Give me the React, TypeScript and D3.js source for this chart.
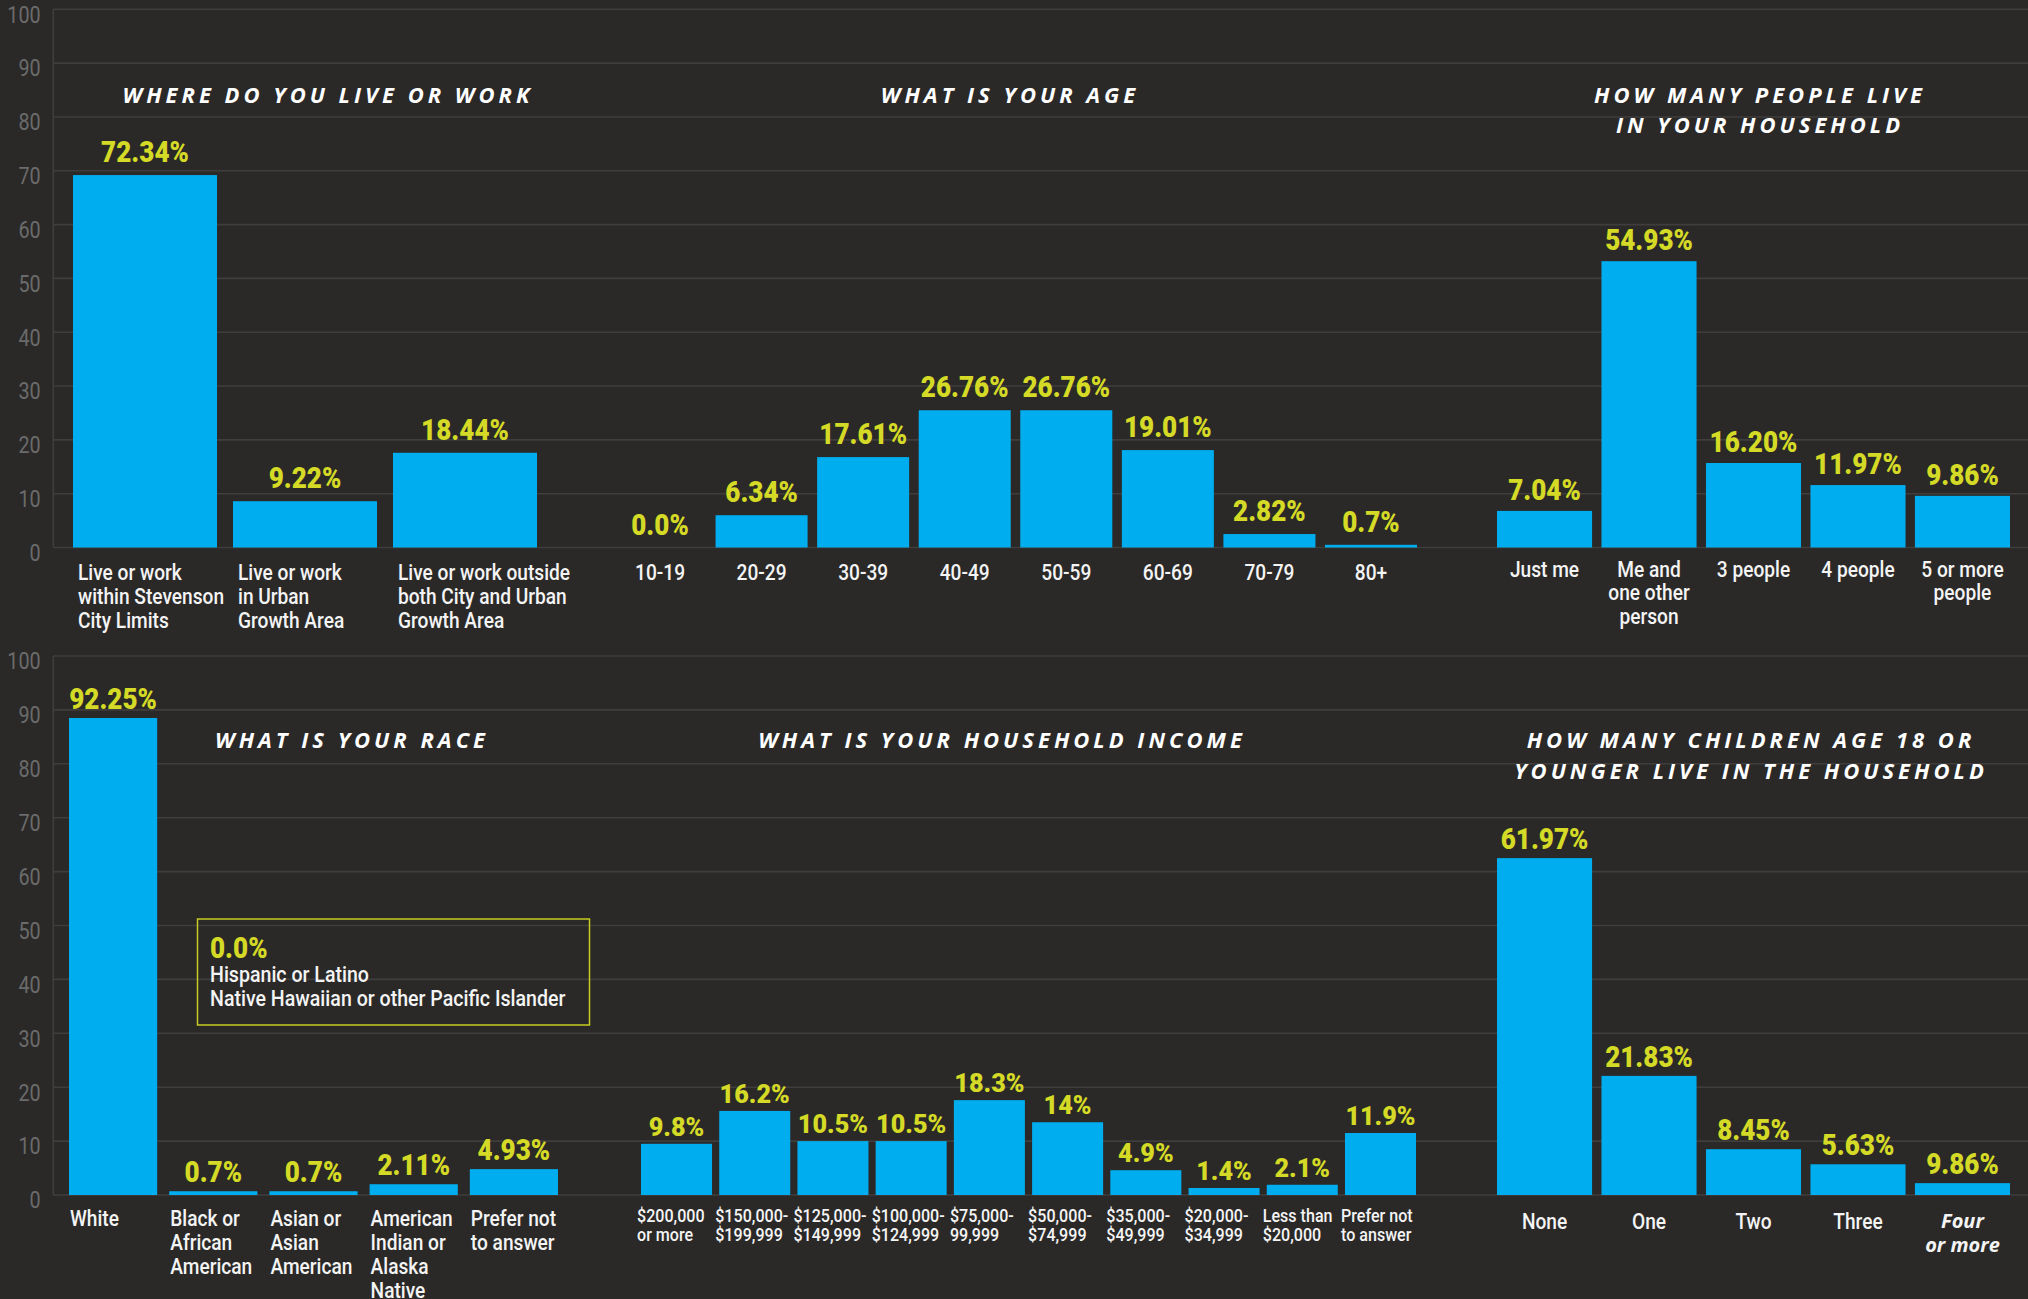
import React from 'react';
import * as d3 from 'd3';

const W = 2028;
const H = 1299;

// ---------- DATA ----------
// Row 1
const whereCats = [
  ['Live or work', 'within Stevenson', 'City Limits'],
  ['Live or work', 'in Urban', 'Growth Area'],
  ['Live or work outside', 'both City and Urban', 'Growth Area'],
];
const whereBars = [69.2, 8.6, 17.6];
const whereLabels = ['72.34%', '9.22%', '18.44%'];

const ageCats = [['10-19'], ['20-29'], ['30-39'], ['40-49'], ['50-59'], ['60-69'], ['70-79'], ['80+']];
const ageBars = [0, 6.0, 16.8, 25.5, 25.5, 18.1, 2.5, 0.5];
const ageLabels = ['0.0%', '6.34%', '17.61%', '26.76%', '26.76%', '19.01%', '2.82%', '0.7%'];

const houseCats = [['Just me'], ['Me and', 'one other', 'person'], ['3 people'], ['4 people'], ['5 or more', 'people']];
const houseBars = [6.8, 53.2, 15.7, 11.6, 9.6];
const houseLabels = ['7.04%', '54.93%', '16.20%', '11.97%', '9.86%'];

// Row 2
const raceCats = [
  ['White'],
  ['Black or', 'African', 'American'],
  ['Asian or', 'Asian', 'American'],
  ['American', 'Indian or', 'Alaska', 'Native'],
  ['Prefer not', 'to answer'],
];
const raceBars = [88.5, 0.7, 0.7, 2.0, 4.8];
const raceLabels = ['92.25%', '0.7%', '0.7%', '2.11%', '4.93%'];
const raceNoteValue = '0.0%';
const raceNoteLines = ['Hispanic or Latino', 'Native Hawaiian or other Pacific Islander'];

const incomeCats = [
  ['$200,000', 'or more'],
  ['$150,000-', '$199,999'],
  ['$125,000-', '$149,999'],
  ['$100,000-', '$124,999'],
  ['$75,000-', '99,999'],
  ['$50,000-', '$74,999'],
  ['$35,000-', '$49,999'],
  ['$20,000-', '$34,999'],
  ['Less than', '$20,000'],
  ['Prefer not', 'to answer'],
];
const incomeBars = [9.5, 15.6, 10.0, 10.0, 17.6, 13.5, 4.6, 1.3, 1.9, 11.5];
const incomeLabels = ['9.8%', '16.2%', '10.5%', '10.5%', '18.3%', '14%', '4.9%', '1.4%', '2.1%', '11.9%'];

const childCats = [['None'], ['One'], ['Two'], ['Three'], ['Four', 'or more']];
const childBars = [62.5, 22.1, 8.5, 5.7, 2.2];
const childLabels = ['61.97%', '21.83%', '8.45%', '5.63%', '9.86%'];

const yTicks = [0, 10, 20, 30, 40, 50, 60, 70, 80, 90, 100];

// ---------- STYLE ----------
const BG = '#2a2928';
const GRID = '#3f3e3d';
const BAR = '#00adee';
const YEL = '#d4da25';
const TICK = '#6b6b6b';
const WHITE = '#f4f4f4';

type Panel = {
  title: string[];
  titleX: number;
  cats: string[][];
  bars: number[];
  labels: string[];
  range: [number, number];
  pad: number;
  align: 'start' | 'middle';
  catDx: number;
  catDy: number;
  catSize: number;
  catLH: number;
  catSx: number;
  catWeight: number;
  valSize: number;
  valSx: number;
  valOff: number;
  italicLast?: boolean;
};

function CText(props: {
  x: number; y: number; sx?: number; size: number; weight?: number; fill: string;
  anchor?: string; family?: string; italic?: boolean; lines: string[]; lh?: number; ls?: number;
}) {
  const { x, y, sx = 1, size, weight = 400, fill, anchor = 'start', family = 'Roboto', italic, lines, lh = size, ls = 0 } = props;
  return (
    <text
      transform={`translate(${x},${y}) scale(${sx},1)`}
      fontFamily={family}
      fontSize={size}
      fontWeight={weight}
      fontStyle={italic ? 'italic' : 'normal'}
      fill={fill}
      textAnchor={anchor}
      letterSpacing={ls}
    >
      {lines.map((l, i) => (
        <tspan key={i} x={0} y={i * lh}>{l}</tspan>
      ))}
    </text>
  );
}

function Row({ y0, y1, panels, titleY, titleLH }: { y0: number; y1: number; panels: Panel[]; titleY: number; titleLH: number }) {
  const y = d3.scaleLinear().domain([0, 100]).range([y0, y1]);
  const axisX = 53.3;
  return (
    <g>
      {yTicks.map((t) => (
        <g key={t}>
          <line x1={axisX} x2={W} y1={y(t)} y2={y(t)} stroke={GRID} strokeWidth={1.6} />
          <CText x={40.7} y={y(t) + 13.3} size={23} sx={0.86} fill={TICK} anchor="end" lines={[String(t)]} />
        </g>
      ))}
      <line x1={axisX} x2={axisX} y1={y(100)} y2={y(0)} stroke={GRID} strokeWidth={1.6} />
      {panels.map((p, pi) => {
        const x = d3.scaleBand<number>().domain(d3.range(p.bars.length)).range(p.range).paddingInner(p.pad).paddingOuter(0);
        return (
          <g key={pi}>
            <text
              x={p.titleX}
              y={titleY}
              fontFamily="'Open Sans'"
              fontStyle="italic"
              fontWeight={700}
              fontSize={22}
              letterSpacing={4}
              fill="#ffffff"
              textAnchor="middle"
            >
              {p.title.map((l, i) => (
                <tspan key={i} x={p.titleX + 2} y={titleY + i * titleLH}>{l}</tspan>
              ))}
            </text>
            {p.bars.map((v, i) => {
              const bx = x(i) as number;
              const bw = x.bandwidth();
              return (
                <g key={i}>
                  {v > 0 && <rect x={bx} y={y(v)} width={bw} height={y(0) - y(v)} fill={BAR} />}
                  <CText
                    x={bx + bw / 2}
                    y={y(v) - p.valOff}
                    size={p.valSize}
                    sx={p.valSx}
                    weight={900}
                    fill={YEL}
                    anchor="middle"
                    lines={[p.labels[i]]}
                  />
                  {p.italicLast && i === p.bars.length - 1 ? (
                    <CText
                      x={bx + bw / 2}
                      y={y(0) + p.catDy - 1}
                      size={20}
                      weight={700}
                      italic
                      family="'Open Sans'"
                      fill={WHITE}
                      anchor="middle"
                      lines={p.cats[i]}
                      lh={24}
                    />
                  ) : (
                    <CText
                      x={p.align === 'middle' ? bx + bw / 2 : bx + p.catDx}
                      y={y(0) + p.catDy}
                      size={p.catSize}
                      sx={p.catSx}
                      weight={p.catWeight}
                      fill={WHITE}
                      anchor={p.align}
                      lines={p.cats[i]}
                      lh={p.catLH}
                    />
                  )}
                </g>
              );
            })}
          </g>
        );
      })}
    </g>
  );
}

const base = {
  catSize: 22, catLH: 24, catSx: 0.87, catWeight: 500,
  valSize: 29, valSx: 0.9,
};

const topPanels: Panel[] = [
  { ...base, title: ['WHERE DO YOU LIVE OR WORK'], titleX: 326, cats: whereCats, bars: whereBars, labels: whereLabels, range: [73, 537], pad: 0.1, align: 'start', catDx: 5, catDy: 32.5, valOff: 13 },
  { ...base, title: ['WHAT IS YOUR AGE'], titleX: 1008, cats: ageCats, bars: ageBars, labels: ageLabels, range: [614, 1417], pad: 0.094, align: 'middle', catDx: 0, catDy: 32.5, valOff: 13 },
  { ...base, title: ['HOW MANY PEOPLE LIVE', 'IN YOUR HOUSEHOLD'], titleX: 1758, cats: houseCats, bars: houseBars, labels: houseLabels, range: [1497, 2010], pad: 0.09, align: 'middle', catDx: 0, catDy: 29, valOff: 11 },
];

const bottomPanels: Panel[] = [
  { ...base, title: ['WHAT IS YOUR RACE'], titleX: 350, cats: raceCats, bars: raceBars, labels: raceLabels, range: [69, 558], pad: 0.12, align: 'start', catDx: 1, catDy: 31, valOff: 9 },
  { ...base, title: ['WHAT IS YOUR HOUSEHOLD INCOME'], titleX: 1000, cats: incomeCats, bars: incomeBars, labels: incomeLabels, range: [641, 1416], pad: 0.092, align: 'start', catDx: -4, catDy: 26.7, catSize: 17.5, catLH: 19.4, catSx: 0.92, catWeight: 500, valSize: 26, valSx: 0.97, valOff: 8 },
  { ...base, title: ['HOW MANY CHILDREN AGE 18 OR', 'YOUNGER LIVE IN THE HOUSEHOLD'], titleX: 1749, cats: childCats, bars: childBars, labels: childLabels, range: [1497, 2010], pad: 0.09, align: 'middle', catDx: 0, catDy: 34, valOff: 9, italicLast: true },
];

export default function App() {
  React.useEffect(() => {
    document.body.style.margin = '0';
    document.body.style.background = BG;
  }, []);
  return (
    <svg width={W} height={H} viewBox={`0 0 ${W} ${H}`} style={{ display: 'block', position: 'absolute', left: 0, top: 0 }}>
      <rect x={0} y={0} width={W} height={H} fill={BG} />
      <Row y0={547.5} y1={9.3} panels={topPanels} titleY={102.5} titleLH={30} />
      <Row y0={1195} y1={656} panels={bottomPanels} titleY={748} titleLH={30.7} />
      <rect x={197.5} y={919} width={392} height={106} fill="none" stroke="#c8cb20" strokeWidth={1.5} />
      <CText x={210} y={958.3} size={29} sx={0.9} weight={900} fill={YEL} lines={[raceNoteValue]} />
      <CText x={210} y={982.3} size={22} sx={0.89} weight={500} fill={WHITE} lines={raceNoteLines} lh={23.6} />
    </svg>
  );
}
